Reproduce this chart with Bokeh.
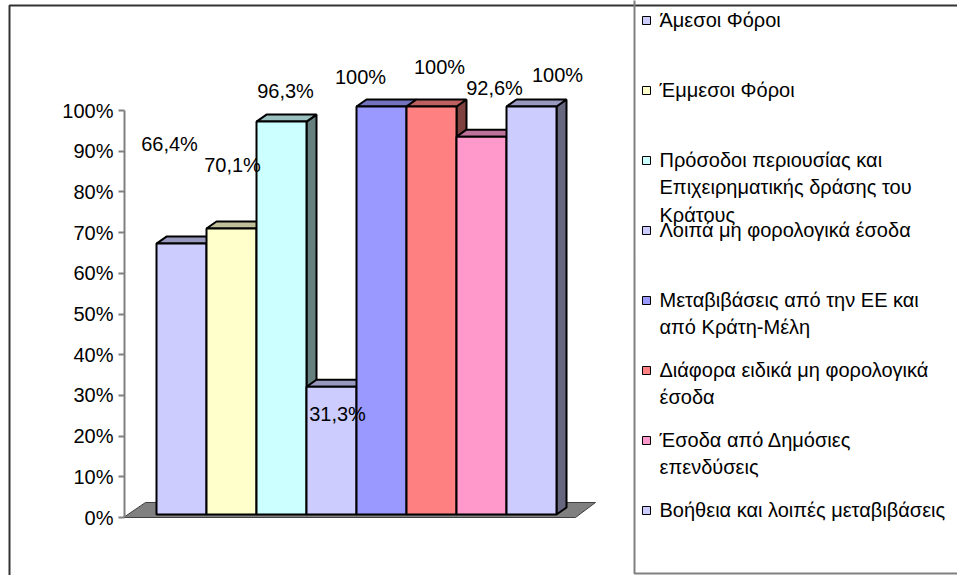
from bokeh.plotting import figure
from bokeh.models import (Range1d, LinearAxis, FixedTicker, PrintfTickFormatter,
                          ColumnDataSource)
from bokeh.core.properties import value
from bokeh.embed import file_html
from bokeh.resources import INLINE

# ---------------- data ----------------
categories = [
    "Άμεσοι Φόροι",
    "Έμμεσοι Φόροι",
    "Πρόσοδοι περιουσίας και\nΕπιχειρηματικής δράσης του\nΚράτους",
    "Λοιπά μη φορολογικά έσοδα",
    "Μεταβιβάσεις από την ΕΕ και\nαπό Κράτη-Μέλη",
    "Διάφορα ειδικά μη φορολογικά\nέσοδα",
    "Έσοδα από Δημόσιες\nεπενδύσεις",
    "Βοήθεια και λοιπές μεταβιβάσεις",
]
percentages = [66.4, 70.1, 96.3, 31.3, 100, 100, 92.6, 100]
value_labels = ["66,4%", "70,1%", "96,3%", "31,3%", "100%", "100%", "92,6%", "100%"]
y_ticks = [0, 10, 20, 30, 40, 50, 60, 70, 80, 90, 100]

# ---------------- style / layout ----------------
colors = ["#CCCCFF", "#FFFFCC", "#CCFFFF", "#CCCCFF",
          "#9999FF", "#FF8080", "#FF99CC", "#CCCCFF"]
label_dx = [-12, 1, 4, 6, -21, 8, 13, 26]        # px offsets of value labels
label_dy = [-100, -63, -31, 27, -29, -39, -49, -31]
FONT = "Liberation Sans"
FS = "20px"
W, H = 957, 575
DX, DY = 0.2, 1.72          # 3-D depth of the bars (x units, % units)
AXIS_X = -1.14              # x position of the value axis
FLOOR = dict(fl=-0.66, fr=0.38, bl=-0.22, br=0.78, depth=3.69)


def shade(c, f):
    return "#%02x%02x%02x" % tuple(int(int(c[i:i + 2], 16) * f) for i in (1, 3, 5))


n = len(percentages)
centers = list(range(n))
lefts = [c - 0.5 for c in centers]
rights = [c + 0.5 for c in centers]

front = ColumnDataSource(dict(left=lefts, right=rights, top=percentages,
                              bottom=[0] * n, color=colors))
tops = ColumnDataSource(dict(
    xs=[[l, l + DX, r + DX, r] for l, r in zip(lefts, rights)],
    ys=[[v, v + DY, v + DY, v] for v in percentages],
    color=[shade(c, 0.75) for c in colors]))
sides = ColumnDataSource(dict(
    xs=[[r, r, r + DX, r + DX] for r in rights],
    ys=[[0, v, v + DY, DY] for v in percentages],
    color=[shade(c, 0.5) for c in colors]))
labels = ColumnDataSource(dict(x=centers, y=percentages, text=value_labels,
                               dx=label_dx, dy=label_dy))

p = figure(width=W, height=H, output_backend="svg", toolbar_location=None,
           x_range=Range1d(-3.62, 15.52), y_range=Range1d(-14.25, 127.03),
           x_axis_type=None, y_axis_type=None, min_border=0,
           outline_line_color=None, background_fill_color="white",
           border_fill_color="white")
p.extra_y_ranges = {"bars": Range1d(-14.95, 125.98), "px": Range1d(H, 0)}
p.extra_x_ranges = {"px": Range1d(0, W)}

# floor
x0, x1 = lefts[0], rights[-1]
p.patch([x0 + FLOOR["fl"], x1 + FLOOR["fr"], x1 + FLOOR["br"], x0 + FLOOR["bl"]],
        [0, 0, FLOOR["depth"], FLOOR["depth"]],
        fill_color="#808080", line_color="#404040", line_width=1)

# bars (sides, tops, fronts)
p.patches("xs", "ys", source=sides, fill_color="color", line_color="black",
          line_width=2, y_range_name="bars")
p.patches("xs", "ys", source=tops, fill_color="color", line_color="black",
          line_width=2, y_range_name="bars")
p.quad(left="left", right="right", top="top", bottom="bottom", source=front,
       fill_color="color", line_color="black", line_width=2, y_range_name="bars")

# value labels
p.text("x", "y", text="text", source=labels, x_offset="dx", y_offset="dy",
       text_align="center", text_baseline="middle", text_font=value(FONT),
       text_font_size=FS, text_color="black", y_range_name="bars")

# value axis
yaxis = LinearAxis(fixed_location=AXIS_X, ticker=FixedTicker(ticks=y_ticks),
                   formatter=PrintfTickFormatter(format="%d%%"), bounds=(0, 100),
                   axis_line_color="#808080", axis_line_width=2,
                   major_tick_line_color="#808080", major_tick_line_width=2,
                   major_tick_out=6, major_tick_in=0, minor_tick_line_color=None,
                   major_label_text_font=FONT, major_label_text_font_size=FS,
                   major_label_text_color="black", major_label_standoff=5)
p.add_layout(yaxis, "left")

# outer frame and legend box
p.quad(left=9, right=W + 20, top=5, bottom=H + 20, x_range_name="px",
       y_range_name="px", fill_color=None, line_color="#333333", line_width=2)
p.quad(left=634, right=W + 20, top=-20, bottom=573, x_range_name="px",
       y_range_name="px", fill_color=None, line_color="#808080", line_width=2)

# legend
LEG_Y0, LEG_STEP = 20, 70
leg_y = [LEG_Y0 + LEG_STEP * i for i in range(n)]
leg = ColumnDataSource(dict(x=[646] * n, tx=[659] * n, y=leg_y,
                            ty=[y - 12 for y in leg_y], text=categories,
                            color=colors))
p.scatter("x", "y", source=leg, marker="square", size=8, fill_color="color",
          line_color="black", line_width=1, x_range_name="px", y_range_name="px")
p.text("tx", "ty", text="text", source=leg, text_align="left",
       text_baseline="top", text_font=value(FONT), text_font_size=FS,
       text_line_height=1.25, text_color="black",
       x_range_name="px", y_range_name="px")

open("out.html", "w").write(file_html(p, INLINE))
